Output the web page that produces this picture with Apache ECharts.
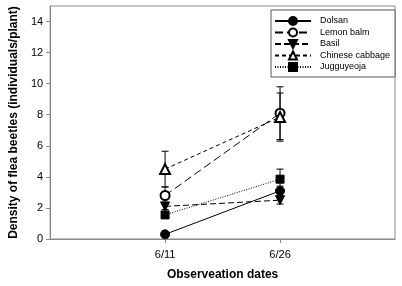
<!DOCTYPE html>
<html>
<head>
<meta charset="utf-8">
<script src="https://cdn.jsdelivr.net/npm/echarts@6/dist/echarts.min.js"></script>
<style>
  html, body { margin: 0; padding: 0; background: #fff; }
  #chart { width: 402px; height: 286px; }
</style>
</head>
<body>
<div id="chart"></div>
<script>
// 调查日期（x 轴位置 1, 2）
var dates = ['6/11', '6/26'];
var names = ['Dolsan', 'Lemon balm', 'Basil', 'Chinese cabbage', 'Jugguyeoja'];
// 平均密度
var dolsan = [0.3, 3.1];
var lemonBalm = [2.8, 8.1];
var basil = [2.1, 2.5];
var cabbage = [4.5, 7.85];
var jugguyeoja = [1.55, 3.85];
// 标准误
var dolsanSE = [0.1, 0.3];
var lemonBalmSE = [0.55, 1.7];
var basilSE = [0.2, 0.25];
var cabbageSE = [1.15, 1.55];
var jugguyeojaSE = [0.2, 0.65];
var yTicks = [0, 2, 4, 6, 8, 10, 12, 14];

var font = 'Liberation Sans, Arial, sans-serif';

function pts(vals) {
  return vals.map(function (v, i) { return [i + 1, v]; });
}
function errs(vals, se) {
  return vals.map(function (v, i) { return [i + 1, v - se[i], v + se[i]]; });
}
function renderErr(params, api) {
  var x = api.value(0);
  var p1 = api.coord([x, api.value(2)]);
  var p2 = api.coord([x, api.value(1)]);
  var w = 3.5;
  var st = { stroke: '#000', lineWidth: 1 };
  return {
    type: 'group',
    children: [
      { type: 'line', shape: { x1: p1[0], y1: p1[1], x2: p2[0], y2: p2[1] }, style: st },
      { type: 'line', shape: { x1: p1[0] - w, y1: p1[1], x2: p1[0] + w, y2: p1[1] }, style: st },
      { type: 'line', shape: { x1: p2[0] - w, y1: p2[1], x2: p2[0] + w, y2: p2[1] }, style: st }
    ]
  };
}

var chart = echarts.init(document.getElementById('chart'));

var lines = [
  { name: names[0], data: dolsan, se: dolsanSE, symbol: 'circle', size: 9, dash: 'solid' },
  { name: names[1], data: lemonBalm, se: lemonBalmSE, symbol: 'emptyCircle', size: 9, dash: [8, 4] },
  { name: names[2], data: basil, se: basilSE, symbol: 'triangle', size: 9, dash: [6, 3], rot: 180 },
  { name: names[3], data: cabbage, se: cabbageSE, symbol: 'emptyTriangle', size: 10, dash: [4, 3] },
  { name: names[4], data: jugguyeoja, se: jugguyeojaSE, symbol: 'rect', size: 8, dash: [1, 1.5] }
];

var series = [];
lines.forEach(function (s) {
  series.push({
    type: 'custom',
    renderItem: renderErr,
    data: errs(s.data, s.se),
    z: 1,
    silent: true
  });
});
lines.forEach(function (s) {
  series.push({
    name: s.name,
    type: 'line',
    data: pts(s.data),
    symbol: s.symbol,
    symbolSize: s.size,
    symbolRotate: s.rot || 0,
    showAllSymbol: true,
    z: 3,
    lineStyle: { color: '#000', width: 1, type: s.dash },
    itemStyle: { color: '#000', borderColor: '#000', borderWidth: 1 }
  });
});

chart.setOption({
  animation: false,
  backgroundColor: '#fff',
  textStyle: { fontFamily: font },
  grid: { left: 41, right: 7, top: 6, bottom: 47, show: true, borderColor: '#888', borderWidth: 1 },
  legend: {
    data: names,
    orient: 'vertical',
    left: 271,
    top: 10,
    itemWidth: 36,
    itemHeight: 10,
    itemGap: 1.5,
    padding: [6, 5, 5, 3],
    borderColor: '#555',
    borderWidth: 1,
    backgroundColor: '#fff',
    textStyle: { fontFamily: font, fontSize: 9, lineHeight: 10, color: '#000', padding: [0, 0, 0, 4] }
  },
  xAxis: {
    type: 'value',
    min: 0,
    max: 3,
    name: 'Observeation dates',
    nameLocation: 'middle',
    nameGap: 30,
    nameTextStyle: { fontFamily: font, fontSize: 12, fontWeight: 'bold', color: '#000' },
    splitLine: { show: false },
    axisLine: { lineStyle: { color: '#888' } },
    axisTick: { customValues: [1, 2], length: 4, lineStyle: { color: '#888' } },
    axisLabel: {
      customValues: [1, 2],
      fontSize: 11,
      color: '#000',
      margin: 10,
      formatter: function (v) { return dates[Math.round(v) - 1] || ''; }
    }
  },
  yAxis: {
    type: 'value',
    min: 0,
    max: 15,
    name: 'Density of flea beetles (individuals/plant)',
    nameLocation: 'middle',
    nameGap: 27,
    nameTextStyle: { fontFamily: font, fontSize: 12, fontWeight: 'bold', color: '#000' },
    splitLine: { show: false },
    axisLine: { show: true, lineStyle: { color: '#888' } },
    axisTick: { show: true, customValues: yTicks, length: 4, lineStyle: { color: '#888' } },
    axisLabel: { customValues: yTicks, fontSize: 11, color: '#000', margin: 7 }
  },
  series: series
});
</script>
</body>
</html>
